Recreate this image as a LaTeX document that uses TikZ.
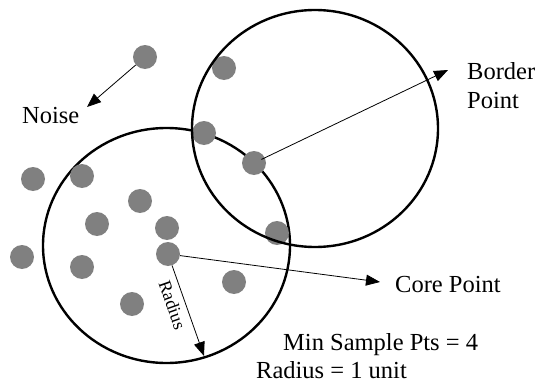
\documentclass[tikz,border=0pt]{standalone}
\usepackage{fontspec}
\setmainfont{Liberation Serif}
\usetikzlibrary{arrows.meta}
\definecolor{dotgray}{HTML}{808080}
\begin{document}
\begin{tikzpicture}[x=1pt,y=-1pt,
  dot/.style={circle,fill=dotgray,minimum size=24pt,inner sep=0pt},
  ring/.style={line width=2.4pt},
  pointer/.style={line width=0.8pt,-{Triangle[length=14pt,width=11pt]}},
  lbl/.style={font=\fontsize{24.5}{29}\selectfont,inner sep=0pt}]
\useasboundingbox (0,0) rectangle (550,388);
% left neighbourhood
\draw[ring] (166.5,245.5) ellipse [x radius=123.5, y radius=117.5];
% points
\node[dot] (d1) at (145,57) {};
\node[dot] (d2) at (224,68) {};
\node[dot] (d3) at (204,133) {};
\node[dot] (d4) at (254,163) {};
\node[dot] (d5) at (82,176) {};
\node[dot] (d6) at (33,179) {};
\node[dot] (d7) at (140,201) {};
\node[dot] (d8) at (97,224) {};
\node[dot] (d9) at (167,228) {};
\node[dot] (d10) at (168,254) {};
\node[dot] (d11) at (22,257) {};
\node[dot] (d12) at (82,267) {};
\node[dot] (d13) at (234,282) {};
\node[dot] (d14) at (132,304) {};
\node[dot] (d15) at (277,233) {};
% right neighbourhood
\draw[ring] (315,128.5) ellipse [x radius=123, y radius=118.5];
% labels
\node[lbl,anchor=base west] (noise) at (22,123) {Noise};
\node[lbl,anchor=north west,align=left] (border) at (467,62) {Border\\Point};
\node[lbl,anchor=base west] (core) at (395,292) {Core Point};
\node[lbl,anchor=base west] (minpts) at (283,350) {Min Sample Pts = 4};
\node[lbl,anchor=base west] (radtxt) at (256,378) {Radius = 1 unit};
% arrow tips
\coordinate (tn) at (87,107);
\coordinate (tb) at (448,70);
\coordinate (tc) at (380,282);
\coordinate (tr) at (204,356);
% arrows
\draw[pointer] (d1) -- (tn);
\draw[pointer,shorten <=-4pt] (d4) -- (tb);
\draw[pointer] (d10) -- (tc);
\draw[pointer] (d10) -- (tr)
  node[pos=0.39,sloped,below=5pt,inner sep=1pt,font=\fontsize{18}{20}\selectfont] (radlbl) {Radius};
\end{tikzpicture}
\end{document}
